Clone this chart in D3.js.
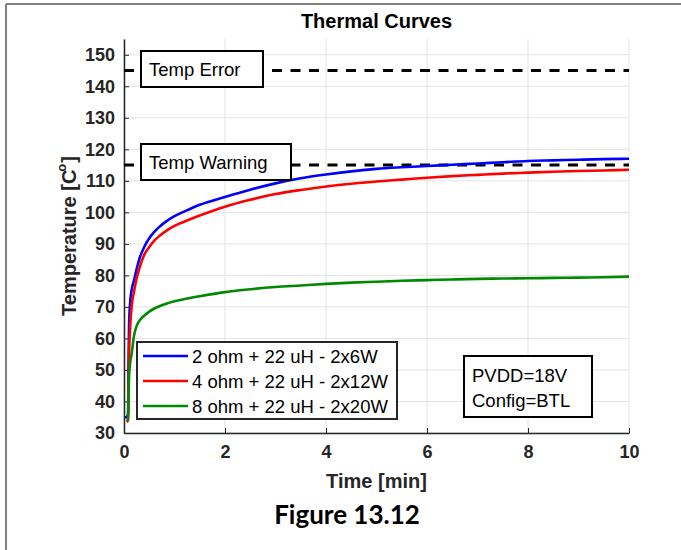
<!DOCTYPE html>
<html><head><meta charset="utf-8">
<script src="https://cdn.jsdelivr.net/npm/d3@7"></script>
<style>body{margin:0;background:#fff}svg{display:block}</style>
</head><body>
<script>
const timeMin = [0.02,0.05,0.08,0.09,0.1,0.12,0.15,0.2,0.25,0.3,0.4,0.5,0.6,0.7,0.85,1.0,1.2,1.5,2,2.5,3,3.5,4,4.5,5,5.5,6,6.5,7,7.5,8,8.5,9,9.5,10];
const blue2ohm = [35,35,36,52,64,71,75.3,78.5,82,85,89,91.8,93.8,95.4,97.3,98.8,100.3,102.4,104.9,107.2,109.2,110.8,112,113,113.8,114.3,114.7,115.1,115.5,115.9,116.3,116.5,116.7,116.9,117];
const red4ohm = [null,33.5,34,45,55,63,70,75,79,82,86.5,89,91,92.5,94.3,95.7,97.1,99,101.8,104,105.8,107.1,108.2,109.1,109.8,110.4,111.0,111.5,111.9,112.3,112.6,112.9,113.1,113.3,113.5];
const green8ohm = [null,34,34.2,42,48,52,55,61,64,65.5,67.2,68.5,69.5,70.2,71.1,71.8,72.5,73.4,74.7,75.6,76.3,76.8,77.3,77.7,78.0,78.3,78.5,78.7,78.9,79.0,79.1,79.2,79.3,79.4,79.6];
const seriesNames = ["2 ohm + 22 uH - 2x6W","4 ohm + 22 uH - 2x12W","8 ohm + 22 uH - 2x20W"];
const seriesColors = ["#0000ff","#ff0000","#008a00"];
const xTicks = [0,2,4,6,8,10];
const yTicks = [30,40,50,60,70,80,90,100,110,120,130,140,150];
const thresholds = [145,115];
const thresholdLabels = ["Temp Error","Temp Warning"];
const noteLines = ["PVDD=18V","Config=BTL"];

const W=681,H=550;
const L=124,R=629,T=39,B=433;
const svg=d3.select("body").append("svg").attr("width",W).attr("height",H);
const x=d3.scaleLinear().domain([0,10]).range([L,R]);
const y=d3.scaleLinear().domain([30,155]).range([B,T]);
const AF="'Liberation Sans',Arial,Helvetica,sans-serif";

// outer frame
svg.append("line").attr("x1",6).attr("x2",6).attr("y1",4).attr("y2",H).attr("stroke","#808080").attr("stroke-width",2);
svg.append("line").attr("x1",6).attr("x2",W).attr("y1",4).attr("y2",4).attr("stroke","#808080").attr("stroke-width",2);

// grid
const g=svg.append("g");
g.selectAll(".gx").data(xTicks).join("line").attr("x1",d=>x(d)).attr("x2",d=>x(d)).attr("y1",T).attr("y2",B).attr("stroke","#e3e3e3").attr("stroke-width",1);
g.selectAll(".gy").data(yTicks).join("line").attr("x1",L).attr("x2",R).attr("y1",d=>y(d)).attr("y2",d=>y(d)).attr("stroke","#e3e3e3").attr("stroke-width",1);

// axes
const xAxis=svg.append("g").attr("transform",`translate(0,${B})`).call(d3.axisBottom(x).tickValues(xTicks).tickSizeInner(-5).tickSizeOuter(0).tickPadding(12));
const yAxis=svg.append("g").attr("transform",`translate(${L},0)`).call(d3.axisLeft(y).tickValues(yTicks).tickSizeInner(-5).tickSizeOuter(0).tickPadding(9));
[xAxis,yAxis].forEach(a=>{
  a.select(".domain").attr("stroke","#262626").attr("stroke-width",1.5);
  a.selectAll(".tick line").attr("stroke","#262626").attr("stroke-width",1);
  a.selectAll("text").attr("font-family",AF).attr("font-weight","bold").attr("font-size",18).attr("fill","#262626");
});

// thresholds
svg.selectAll(".thr").data(thresholds).join("line").attr("x1",x(0)).attr("x2",x(10)).attr("y1",d=>y(d)).attr("y2",d=>y(d))
  .attr("stroke","#000").attr("stroke-width",3).attr("stroke-dasharray","10,8.5");

// curves
const allSeries=[blue2ohm,red4ohm,green8ohm];
const line=d3.line().defined(d=>d[1]!=null).curve(d3.curveMonotoneX).x(d=>x(d[0])).y(d=>y(d[1]));
allSeries.forEach((s,i)=>{
  svg.append("path").datum(timeMin.map((t,j)=>[t,s[j]])).attr("d",line).attr("fill","none").attr("stroke",seriesColors[i]).attr("stroke-width",2.6).attr("stroke-linejoin","round");
});

// threshold label boxes
const boxW=[122,150];
const boxTop=[51,144];
thresholdLabels.forEach((t,i)=>{
  svg.append("rect").attr("x",141).attr("y",boxTop[i]).attr("width",boxW[i]).attr("height",36).attr("fill","#fff").attr("stroke","#000").attr("stroke-width",2);
  svg.append("text").attr("x",149).attr("y",boxTop[i]+25).text(t).attr("font-family",AF).attr("font-size",18.5).attr("fill","#000");
});

// legend
const lg=svg.append("g");
lg.append("rect").attr("x",137).attr("y",342).attr("width",260).attr("height",77).attr("fill","#fff").attr("stroke","#262626").attr("stroke-width",2);
seriesNames.forEach((n,i)=>{
  const yy=356+i*25;
  lg.append("line").attr("x1",143).attr("x2",188).attr("y1",yy).attr("y2",yy).attr("stroke",seriesColors[i]).attr("stroke-width",2.6);
  lg.append("text").attr("x",192).attr("y",yy+7).text(n).attr("font-family",AF).attr("font-size",18.5).attr("fill","#000");
});

// note box
svg.append("rect").attr("x",464).attr("y",356).attr("width",128).attr("height",61).attr("fill","#fff").attr("stroke","#000").attr("stroke-width",2);
noteLines.forEach((t,i)=>{
  svg.append("text").attr("x",472).attr("y",381.5+i*25).text(t).attr("font-family",AF).attr("font-size",18.5).attr("fill","#000");
});

// titles
svg.append("text").attr("x",(L+R)/2).attr("y",28).attr("text-anchor","middle").text("Thermal Curves").attr("font-family",AF).attr("font-weight","bold").attr("font-size",20).attr("fill","#000");
svg.append("text").attr("x",(L+R)/2).attr("y",488).attr("text-anchor","middle").text("Time [min]").attr("font-family",AF).attr("font-weight","bold").attr("font-size",20).attr("fill","#262626");
const yl=svg.append("text").attr("transform",`translate(76,${(T+B)/2}) rotate(-90)`).attr("text-anchor","middle").attr("font-family",AF).attr("font-weight","bold").attr("font-size",20).attr("fill","#262626");
yl.append("tspan").text("Temperature [C");
yl.append("tspan").text("o").attr("font-size",13).attr("dy",-10).attr("dx",-2);
yl.append("tspan").text("]").attr("dy",10).attr("dx",1);
svg.append("text").attr("x",347).attr("y",524).attr("text-anchor","middle").text("Figure 13.12").attr("font-family","Lato,'Noto Sans',sans-serif").attr("font-weight","bold").attr("font-size",26).attr("fill","#000");
</script>
</body></html>
